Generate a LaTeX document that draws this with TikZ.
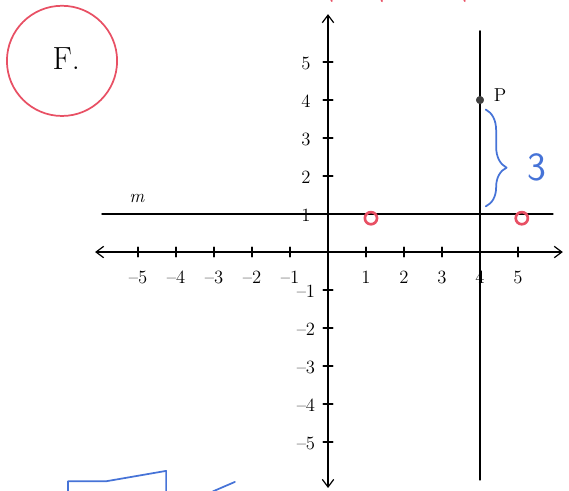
\documentclass[tikz,border=0pt]{standalone}
\usepackage{fontspec}
\usetikzlibrary{arrows.meta,decorations.pathreplacing}
\definecolor{penred}{RGB}{232,80,100}
\definecolor{penblue}{RGB}{70,115,215}
\begin{document}
\begin{tikzpicture}[>={Straight Barb[length=2mm,width=3mm]}, line join=round, line cap=round,
	font=\fontsize{14}{16}\selectfont,
	axis/.style={line width=0.9pt, <->},
	redpen/.style={penred, line width=1.3pt},
	bluepen/.style={penblue, line width=1.3pt}]
	\useasboundingbox (-8.632,-6.263) rectangle (6.342,6.632);
	\coordinate (O) at (0,0);
	\coordinate (W) at (-6.13,0);
	\coordinate (E) at (6.18,0);
	\coordinate (S) at (0,-6.21);
	\coordinate (N) at (0,6.26);
	\coordinate (mL) at (-5.95,1);
	\coordinate (mR) at (5.92,1);
	\coordinate (kT) at (4,5.82);
	\coordinate (kB) at (4,-6.0);
	\coordinate (P) at (4,4);
	
	% axes
	\draw[axis] (W)--(E);
	\draw[axis] (S)--(N);
	\foreach \t in {-5,-4,-3,-2,-1,1,2,3,4,5}{
		\pgfmathtruncatemacro\a{abs(\t)}
		\draw[line width=0.8pt] (\t,-0.13)--(\t,0.13);
		\draw[line width=0.8pt] (-0.13,\t)--(0.13,\t);
		\node (x\t) at (\t,-0.66) {\ifnum\t<0 \textendash\fi\a};
		\node (y\t) at (-0.58,\t-0.03) {\ifnum\t<0 \textendash\fi\a};
	}
	
	% line m and line x=4
	\draw[line width=0.9pt] (mL)--(mR);
	\node (m) at (-5.03,1.42) {\itshape m};
	\draw[line width=0.9pt] (kT)--(kB);
	\filldraw[black!75] (P) circle(2.8pt);
	\node (Plab) at (4.53,4.13) {P};
	
	% marks in pen
	\draw[redpen] (-7.0,5.03) circle (1.45);
	\node[font=\fontsize{24}{28}\selectfont] (F) at (-6.89,5.1) {F.};
	\foreach \diem/\g in {A/1.13, B/5.1}
	\draw[redpen, line width=2pt] (\g,0.89) circle(0.16) coordinate (\diem);
	\draw[bluepen, decorate, decoration={brace, amplitude=0.55cm, aspect=0.6}] (4.15,3.75)--(4.15,1.2);
	\node[penblue, font=\sffamily\fontsize{30}{30}\selectfont] (three) at (5.5,2.24) {3};
	\draw[bluepen] (-6.84,-6.3)--(-6.84,-6.03)--(-5.82,-6.03)--(-4.26,-5.76)--(-4.26,-6.3);
	\draw[bluepen] (-2.45,-6.05)--(-3.03,-6.3);
	\foreach \g in {0.1,1.42,3.6}
	\draw[redpen] (\g-0.02,6.66)--(\g,6.6);
\end{tikzpicture}
\end{document}
